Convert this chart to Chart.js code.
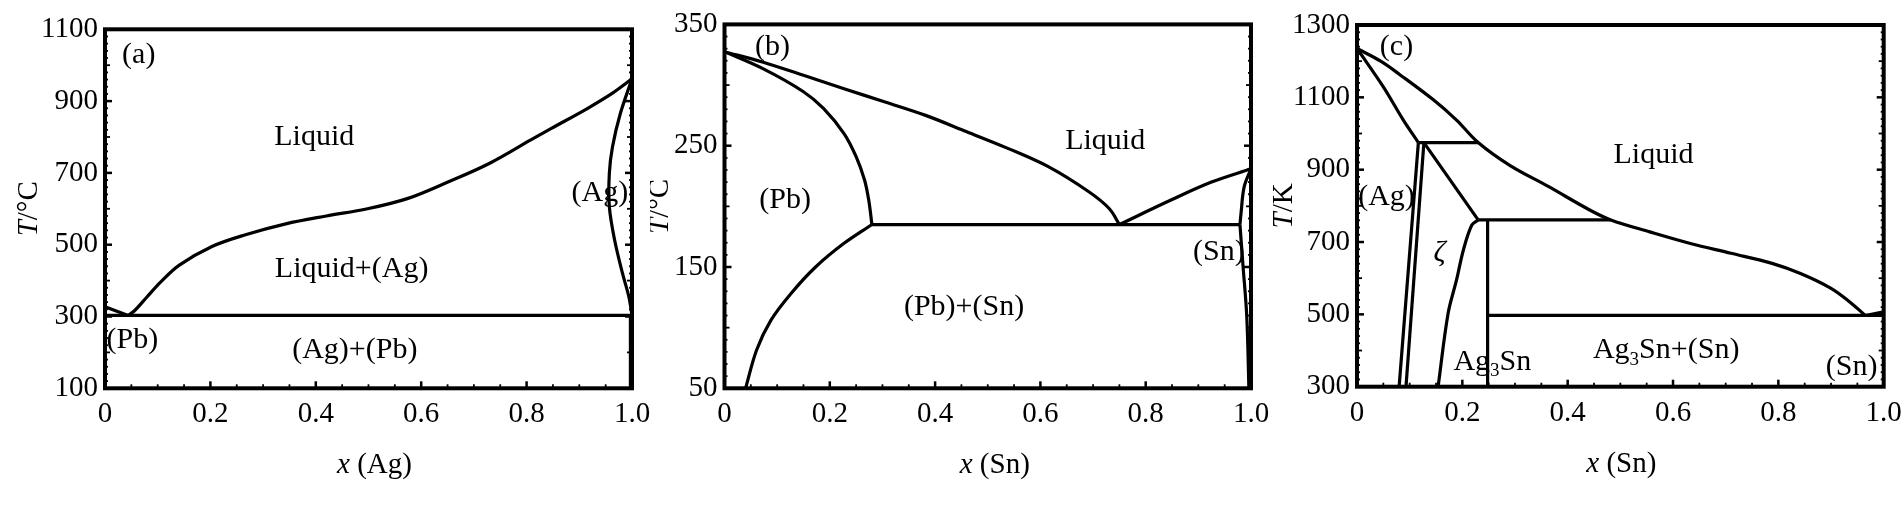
<!DOCTYPE html>
<html><head><meta charset="utf-8">
<script src="https://cdn.jsdelivr.net/npm/chart.js@4.4.1/dist/chart.umd.min.js"></script>
<style>
html,body{margin:0;padding:0;background:#fff;}
body{width:1902px;height:505px;position:relative;overflow:hidden;}
.p{position:absolute;top:0;height:505px;}
canvas{display:block;}
</style></head><body>
<div class="p" style="left:0px;width:680px"><canvas id="ca" width="680" height="505"></canvas></div>
<div class="p" style="left:650px;width:640px"><canvas id="cb" width="640" height="505"></canvas></div>
<div class="p" style="left:1250px;width:680px"><canvas id="cc" width="680" height="505"></canvas></div>
<script>
// ---------- Panel (a): Pb–Ag, x(Ag) vs T/°C ----------
const aTicksX = [0, 0.2, 0.4, 0.6, 0.8, 1.0];
const aTicksY = [100, 300, 500, 700, 900, 1100];
const aLiquidusPb = [[0, 327], [0.044, 303]];
const aLiquidusAg = [[0.044, 303], [0.056, 316], [0.080, 355], [0.105, 395], [0.141, 443], [0.203, 495], [0.265, 527], [0.343, 558], [0.420, 580], [0.498, 600], [0.575, 629], [0.653, 676], [0.730, 727], [0.808, 792], [0.847, 824], [0.916, 880], [0.963, 922], [1.0, 962]];
const aSolidusAg = [[1.0, 962], [0.978, 866], [0.963, 773], [0.957, 699], [0.957, 606], [0.967, 513], [0.982, 420], [0.994, 355], [1.0, 303]];
const aSolvusAg = [[0.998, 303], [0.997, 100]];
const aEutectic = [[0, 303], [1.0, 303]];

// ---------- Panel (b): Pb–Sn, x(Sn) vs T/°C ----------
const bTicksX = [0, 0.2, 0.4, 0.6, 0.8, 1.0];
const bTicksY = [50, 150, 250, 350];
const bLiquidusPb = [[0, 327.5], [0.072, 319], [0.150, 308], [0.227, 297], [0.305, 286], [0.382, 275], [0.460, 261.5], [0.537, 248], [0.615, 232.7], [0.692, 212], [0.731, 198], [0.750, 185]];
const bSolidusPb = [[0, 327.5], [0.072, 313.7], [0.150, 294.5], [0.188, 280.7], [0.227, 260], [0.250, 241], [0.266, 221.7], [0.274, 205], [0.280, 185]];
const bSolvusPb = [[0.280, 185], [0.227, 169.5], [0.173, 150], [0.126, 128], [0.088, 106], [0.061, 81.6], [0.040, 50]];
const bEutectic = [[0.280, 185], [0.979, 185]];
const bLiquidusSn = [[0.750, 185], [0.847, 205], [0.925, 220], [1.0, 231]];
const bSolidusSn = [[1.0, 231], [0.987, 216], [0.981, 194], [0.979, 185]];
const bSolvusSn = [[0.979, 185], [0.985, 150], [0.992, 109], [0.996, 50]];

// ---------- Panel (c): Ag–Sn, x(Sn) vs T/K ----------
const cTicksX = [0, 0.2, 0.4, 0.6, 0.8, 1.0];
const cTicksY = [300, 500, 700, 900, 1100, 1300];
const cLiquidus = [[0, 1235], [0.045, 1200], [0.082, 1162], [0.145, 1093], [0.189, 1037], [0.230, 975], [0.290, 912], [0.364, 853], [0.440, 790], [0.482, 761], [0.556, 728], [0.633, 696], [0.710, 669], [0.788, 641], [0.842, 613], [0.900, 572], [0.935, 535], [0.965, 497]];
const cLiquidusSn = [[0.965, 497], [1.0, 507]];
const cSolidusAg = [[0, 1235], [0.050, 1129], [0.088, 1037], [0.1165, 975]];
const cPeritectic1 = [[0.1165, 975], [0.230, 975]];
const cSolvusAg = [[0.1165, 975], [0.080, 300]];
const cZetaLeft = [[0.127, 975], [0.093, 300]];
const cZetaSolidus = [[0.127, 975], [0.230, 761]];
const cPeritectic2 = [[0.230, 761], [0.482, 761]];
const cZetaSolvus = [[0.230, 761], [0.218, 747], [0.202, 678], [0.189, 595], [0.173, 503], [0.154, 300]];
const cAg3Sn = [[0.248, 761], [0.248, 300]];
const cEutectic = [[0.248, 497], [1.0, 497]];

// ---------- helpers ----------
const SERIF = '"Liberation Serif", "Times New Roman", serif';
const FS = 30;      // region labels
const FT = 29;      // tick labels
const FA = 29;      // axis titles
const R = t => ({t});
const I = t => ({t, it: true});
const S = t => ({t, sub: true});

function fontOf(seg, size) {
  const sz = seg.sub ? Math.round(size * 0.62) : size;
  return (seg.it ? 'italic ' : '') + sz + 'px ' + SERIF;
}
function richWidth(ctx, parts, size) {
  let w = 0;
  for (const p of parts) { ctx.font = fontOf(p, size); w += ctx.measureText(p.t).width; }
  return w;
}
function drawRich(ctx, parts, cx, cy, size) {
  const w = richWidth(ctx, parts, size);
  let x = cx - w / 2;
  ctx.textBaseline = 'middle';
  ctx.textAlign = 'left';
  for (const p of parts) {
    ctx.font = fontOf(p, size);
    ctx.fillText(p.t, x, cy + (p.sub ? size * 0.32 : 0));
    x += ctx.measureText(p.t).width;
  }
}
function range(a, b, s) { const o = []; for (let v = a; v <= b + 1e-9; v += s) o.push(+v.toFixed(6)); return o; }

const decor = {
  id: 'decor',
  afterDraw(chart, args, o) {
    const ctx = chart.ctx;
    const {left, right, top, bottom} = chart.chartArea;
    const xs = chart.scales.x, ys = chart.scales.y;
    ctx.save();
    ctx.strokeStyle = '#000';
    ctx.fillStyle = '#000';
    // inward tick marks (bottom, left, right)
    const xMinor = range(xs.min, xs.max, o.xMinor);
    for (const v of xMinor) {
      const px = xs.getPixelForValue(v);
      const major = o.ticksX.some(t => Math.abs(t - v) < 1e-6);
      const len = major ? 7 : 4;
      ctx.lineWidth = major ? 2.5 : 1.8;
      ctx.beginPath(); ctx.moveTo(px, bottom); ctx.lineTo(px, bottom - len); ctx.stroke();
    }
    const yMinor = range(ys.min, ys.max, o.yMinor);
    for (const v of yMinor) {
      const py = ys.getPixelForValue(v);
      const major = o.ticksY.some(t => Math.abs(t - v) < 1e-6);
      const half = Math.abs(((v - o.ticksY[0]) / o.yHalf) % 1) < 1e-6;
      const len = major ? 7 : (half ? 5 : 3);
      ctx.lineWidth = major ? 2.5 : 1.8;
      ctx.beginPath(); ctx.moveTo(left, py); ctx.lineTo(left + len, py); ctx.stroke();
      ctx.beginPath(); ctx.moveTo(right, py); ctx.lineTo(right - len, py); ctx.stroke();
    }
    // frame
    ctx.lineWidth = 4;
    ctx.strokeRect(left, top, right - left, bottom - top);
    // region labels
    for (const lab of o.labels) {
      drawRich(ctx, lab.parts, xs.getPixelForValue(lab.x), ys.getPixelForValue(lab.y), FS);
    }
    // axis titles
    drawRich(ctx, o.xTitle, (left + right) / 2 + o.xTitleDx, bottom + o.xTitleDy, FA);
    ctx.save();
    ctx.translate(left - o.yTitleDx, (top + bottom) / 2);
    ctx.rotate(-Math.PI / 2);
    drawRich(ctx, o.yTitle, 0, 0, FA);
    ctx.restore();
    ctx.restore();
  }
};

function series(pts, curved) {
  return {
    data: pts.map(p => ({x: p[0], y: p[1]})),
    showLine: true, pointRadius: 0, borderColor: '#000', borderWidth: 3.2,
    tension: curved ? 0.35 : 0, fill: false
  };
}

function makeChart(id, cfg) {
  return new Chart(document.getElementById(id), {
    type: 'scatter',
    data: {datasets: cfg.sets.map(s => series(s[0], s[1]))},
    options: {
      responsive: false, animation: false, events: [],
      layout: {padding: {left: 0, top: cfg.padTop, right: cfg.padRight, bottom: 0}},
      plugins: {legend: {display: false}, tooltip: {enabled: false}, decor: cfg.decor},
      scales: {
        x: {
          type: 'linear', min: 0, max: 1,
          grid: {display: false, drawTicks: false}, border: {display: false},
          afterBuildTicks: s => { s.ticks = cfg.ticksX.map(v => ({value: v})); },
          afterFit: s => { s.height = cfg.xH; },
          ticks: {autoSkip: false, maxRotation: 0, padding: 9, color: '#000',
            font: {family: SERIF, size: FT},
            callback: v => v === 0 ? '0' : v.toFixed(1)}
        },
        y: {
          type: 'linear', min: cfg.ticksY[0], max: cfg.ticksY[cfg.ticksY.length - 1],
          grid: {display: false, drawTicks: false}, border: {display: false},
          afterBuildTicks: s => { s.ticks = cfg.ticksY.map(v => ({value: v})); },
          afterFit: s => { s.width = cfg.yW; },
          ticks: {autoSkip: false, padding: 7, color: '#000',
            font: {family: SERIF, size: FT},
            callback: v => String(v)}
        }
      }
    },
    plugins: [decor]
  });
}

makeChart('ca', {
  padTop: 29.3, padRight: 48, yW: 105, xH: 116.7,
  ticksX: aTicksX, ticksY: aTicksY,
  sets: [[aEutectic, false], [aLiquidusPb, false], [aLiquidusAg, true], [aSolidusAg, true], [aSolvusAg, false]],
  decor: {
    ticksX: aTicksX, ticksY: aTicksY, xMinor: 0.05, yMinor: 20, yHalf: 100,
    xTitle: [I('x'), R(' (Ag)')], xTitleDx: 6, xTitleDy: 77,
    yTitle: [I('T'), R('/°C')], yTitleDx: 76,
    labels: [
      {x: 0.064, y: 1028, parts: [R('(a)')]},
      {x: 0.397, y: 801, parts: [R('Liquid')]},
      {x: 0.468, y: 432, parts: [R('Liquid+(Ag)')]},
      {x: 0.474, y: 207, parts: [R('(Ag)+(Pb)')]},
      {x: 0.052, y: 234, parts: [R('(Pb)')]},
      {x: 0.939, y: 644, parts: [R('(Ag)')]}
    ]
  }
});

makeChart('cb', {
  padTop: 24.3, padRight: 39, yW: 74.5, xH: 116.7,
  ticksX: bTicksX, ticksY: bTicksY,
  sets: [[bEutectic, false], [bLiquidusPb, true], [bSolidusPb, true], [bSolvusPb, true], [bLiquidusSn, true], [bSolidusSn, true], [bSolvusSn, true]],
  decor: {
    ticksX: bTicksX, ticksY: bTicksY, xMinor: 0.05, yMinor: 10, yHalf: 50,
    xTitle: [I('x'), R(' (Sn)')], xTitleDx: 7, xTitleDy: 77,
    yTitle: [I('T'), R('/°C')], yTitleDx: 64,
    labels: [
      {x: 0.091, y: 331, parts: [R('(b)')]},
      {x: 0.723, y: 254, parts: [R('Liquid')]},
      {x: 0.115, y: 205, parts: [R('(Pb)')]},
      {x: 0.455, y: 117, parts: [R('(Pb)+(Sn)')]},
      {x: 0.939, y: 162, parts: [R('(Sn)')]}
    ]
  }
});

makeChart('cc', {
  padTop: 25, padRight: 46.3, yW: 107, xH: 118.3,
  ticksX: cTicksX, ticksY: cTicksY,
  sets: [[cEutectic, false], [cPeritectic1, false], [cPeritectic2, false], [cLiquidus, true], [cLiquidusSn, false],
         [cSolidusAg, true], [cSolvusAg, false], [cZetaLeft, false], [cZetaSolidus, false], [cZetaSolvus, true], [cAg3Sn, false]],
  decor: {
    ticksX: cTicksX, ticksY: cTicksY, xMinor: 0.05, yMinor: 20, yHalf: 100,
    xTitle: [I('x'), R(' (Sn)')], xTitleDx: 1, xTitleDy: 78,
    yTitle: [I('T'), R('/K')], yTitleDx: 73,
    labels: [
      {x: 0.075, y: 1240, parts: [R('(c)')]},
      {x: 0.563, y: 941, parts: [R('Liquid')]},
      {x: 0.056, y: 825, parts: [R('(Ag)')]},
      {x: 0.157, y: 670, parts: [I('ζ')]},
      {x: 0.257, y: 369, parts: [R('Ag'), S('3'), R('Sn')]},
      {x: 0.587, y: 401, parts: [R('Ag'), S('3'), R('Sn+(Sn)')]},
      {x: 0.939, y: 355, parts: [R('(Sn)')]}
    ]
  }
});
</script>
</body></html>
